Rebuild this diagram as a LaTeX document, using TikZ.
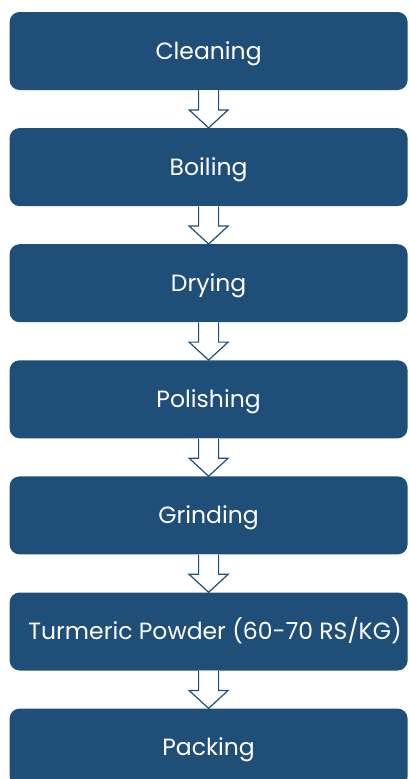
\documentclass[tikz,border=0pt]{standalone}
\usepackage{fontspec}
\setmainfont{Poppins}
\usetikzlibrary{positioning}
\definecolor{stepblue}{HTML}{1F4E79}
\tikzset{
	stepbox/.style={draw=none, fill=stepblue, rounded corners=10pt, minimum width=398pt, minimum height=78pt, inner sep=0pt, text=white, text height=16.4pt, text depth=0pt, font=\fontsize{23.5}{28}\selectfont},
	hollowarrow/.style={draw=stepblue, fill=white, line width=1.2pt, line join=miter}
}
% hollow block arrow from the bottom of one box to the top of the next
\newcommand{\flowstep}[2]{%
	\draw[hollowarrow] ([xshift=-10pt]#1.south) -- ([xshift=-10pt,yshift=18pt]#2.north) -- ([xshift=-19.5pt,yshift=18pt]#2.north) -- (#2.north) -- ([xshift=19.5pt,yshift=18pt]#2.north) -- ([xshift=10pt,yshift=18pt]#2.north) -- ([xshift=10pt]#1.south);}
\begin{document}
\begin{tikzpicture}[x=1pt, y=1pt, node distance=37.7pt]
	\useasboundingbox (0,0) rectangle (408,-779);
	\clip (0,0) rectangle (408,-779);
	\node[stepbox] (clean) at (208.6,-51) {Cleaning};
	\node[stepbox, below=of clean] (boil) {Boiling};
	\node[stepbox, below=of boil] (dry) {Drying};
	\node[stepbox, below=of dry] (polish) {Polishing};
	\node[stepbox, below=of polish] (grind) {Grinding};
	\node[stepbox, below=of grind] (powder) {\hspace{13pt}Turmeric Powder (60-70 RS/KG)};
	\node[stepbox, below=of powder] (pack) {Packing};
	%\draw[color=gray!50,dashed] (0,0) grid (408,-779);
	\flowstep{clean}{boil}
	\flowstep{boil}{dry}
	\flowstep{dry}{polish}
	\flowstep{polish}{grind}
	\flowstep{grind}{powder}
	\flowstep{powder}{pack}
\end{tikzpicture}
\end{document}
